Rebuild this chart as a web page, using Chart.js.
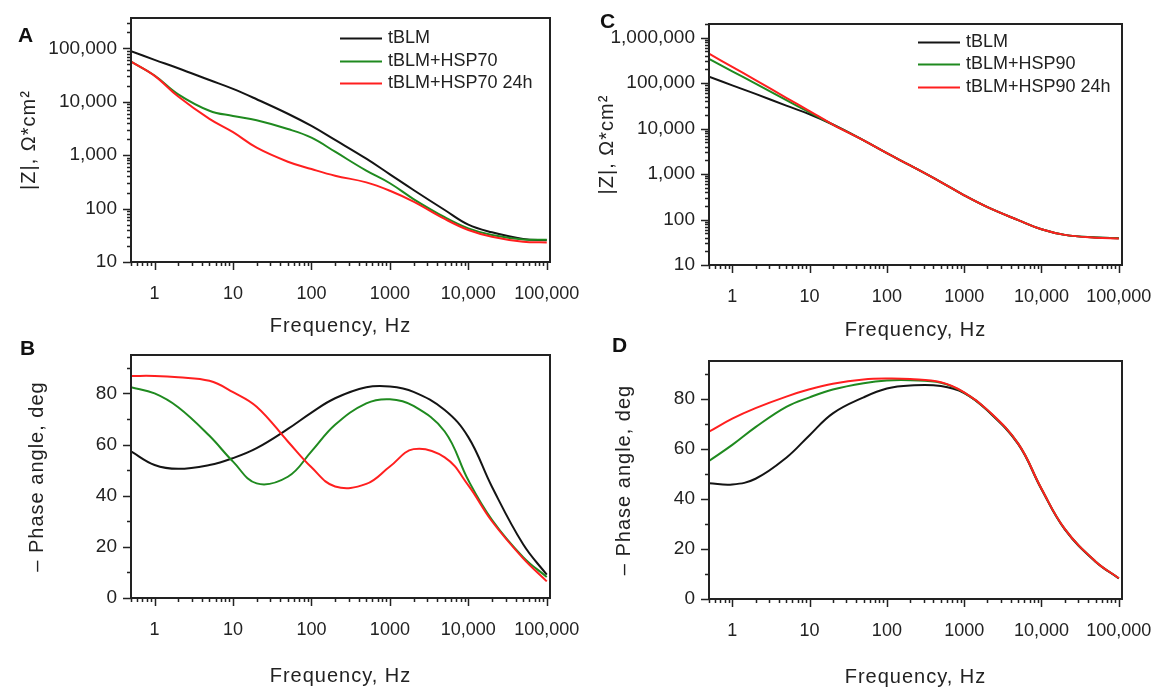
<!DOCTYPE html>
<html>
<head>
<meta charset="utf-8">
<script src="https://cdn.jsdelivr.net/npm/chart.js@4.4.1/dist/chart.umd.min.js"></script>
<style>
  html, body { margin: 0; padding: 0; background: #fff; }
  #wrap { position: relative; width: 1158px; height: 693px; }
  #wrap canvas { position: absolute; left: 0; top: 0; }
</style>
</head>
<body>
<div id="wrap">
  <canvas id="chartA" width="1158" height="693"></canvas>
  <canvas id="chartB" width="1158" height="693"></canvas>
  <canvas id="chartC" width="1158" height="693"></canvas>
  <canvas id="chartD" width="1158" height="693"></canvas>
</div>
<script>
// frequencies, Hz
const freq = [0.5, 1, 2, 5, 10, 20, 50, 100, 200, 500, 1000, 2000, 5000, 10000, 20000, 50000, 100000];

// A: |Z|, HSP70
const zTblmA = [88500, 61000, 42500, 25500, 17400, 11150, 5960, 3520, 1930, 860, 438, 223, 94, 50, 36, 27, 25.5];
const zHsp70 = [56400, 31000, 13800, 6800, 5420, 4500, 3090, 2130, 1160, 514, 298, 151, 69, 42.7, 32, 26.5, 26];
const zHsp70h = [56400, 30500, 12500, 4770, 2690, 1380, 755, 550, 413, 310, 216, 135, 64, 39.8, 29.8, 24, 23.3];

// B: phase, HSP70
const phTblmB = [57.3, 52.0, 50.5, 52.0, 54.7, 58.6, 66.1, 72.5, 78.1, 82.4, 82.7, 80.6, 73.5, 62.9, 43.5, 21, 9.1];
const phHsp70 = [82.4, 80.0, 74.6, 63.4, 53.3, 44.8, 47.4, 57.3, 67.7, 76.1, 77.7, 75.1, 65.1, 46, 30.6, 16, 8.2];
const phHsp70h = [86.8, 86.8, 86.3, 84.9, 80.5, 74.8, 61.2, 51.1, 43.6, 44.6, 51.4, 58.2, 55.0, 44, 30, 15.5, 6.5];

// C: |Z|, HSP90
const zTblmC = [138000, 89500, 58000, 32000, 20700, 12300, 5500, 2880, 1550, 667, 340, 187, 97, 61, 46, 40.5, 39];
const zHsp90 = [340000, 182000, 98000, 42500, 22700, 12300, 5500, 2880, 1550, 667, 340, 187, 97, 61, 46, 40.5, 39];
const zHsp90h = [445000, 228000, 117000, 47500, 24300, 12300, 5500, 2880, 1550, 667, 340, 187, 97, 61, 46, 40, 38.5];

// D: phase, HSP90
const phTblmD = [46.2, 45.7, 48.0, 56.4, 65.4, 74.1, 80.5, 84.0, 85.2, 85.0, 82.2, 75.2, 61.8, 43.8, 27.8, 14.9, 8.2];
const phHsp90 = [55.1, 61.5, 68.6, 76.7, 80.5, 83.6, 86.1, 87.2, 87.3, 86.3, 82.4, 75.4, 62, 44, 28, 15, 8.3];
const phHsp90h = [66.8, 72.0, 76.2, 80.8, 83.7, 85.9, 87.6, 88.0, 87.8, 86.5, 82.5, 75.5, 62, 44, 28, 15, 8.3];

// tick labels
const freqDecades = [1, 10, 100, 1000, 10000, 100000];
const freqTickLabels = ['1', '10', '100', '1000', '10,000', '100,000'];
const zDecadesA = [10, 100, 1000, 10000, 100000];
const zTickLabelsA = ['10', '100', '1,000', '10,000', '100,000'];
const zDecadesC = [10, 100, 1000, 10000, 100000, 1000000];
const zTickLabelsC = ['10', '100', '1,000', '10,000', '100,000', '1,000,000'];
const phaseTicks = [0, 20, 40, 60, 80];
const phaseTickLabels = ['0', '20', '40', '60', '80'];

const seriesA = ['tBLM', 'tBLM+HSP70', 'tBLM+HSP70 24h'];
const seriesC = ['tBLM', 'tBLM+HSP90', 'tBLM+HSP90 24h'];

const BLACK = '#141414', GREEN = '#1f8a1f', RED = '#ff1f1f', INK = '#222';
const FONT = "'Liberation Sans', Arial, sans-serif";
const Y_W = 125, X_H = 90;

function logTicks(min, max) {
  const out = [];
  for (let k = -1; k <= 6; k++) {
    const d = Math.pow(10, k);
    for (let m = 1; m <= 9; m++) {
      const v = m * d;
      if (v >= min * 0.999 && v <= max * 1.001) out.push(v);
    }
  }
  return out;
}

function linTicks(min, max, step) {
  const out = [];
  for (let v = min; v <= max; v += step) out.push(v);
  return out;
}

const labelFrom = (values, labels) => (value) => {
  const i = values.indexOf(value);
  return i >= 0 ? labels[i] : '';
};

const panelPlugin = {
  id: 'panel',
  afterLayout(chart) {
    Object.values(chart.scales).forEach(s => {
      if (s._spaced) return;
      const orig = s.drawTitle;
      s.drawTitle = function () {
        this.ctx.letterSpacing = '1px';
        orig.call(this);
        this.ctx.letterSpacing = '0px';
      };
      s._spaced = true;
    });
  },
  afterDraw(chart, args, o) {
    const { ctx, chartArea: a } = chart;
    const xs = chart.scales.x, ys = chart.scales.y;
    ctx.save();
    ctx.strokeStyle = INK;
    ctx.lineWidth = 1.5;
    ctx.beginPath();
    xs.ticks.forEach(t => {
      const p = Math.round(xs.getPixelForValue(t.value)) + 0.5;
      const len = t.label ? 8 : 4;
      ctx.moveTo(p, a.bottom);
      ctx.lineTo(p, a.bottom + len);
    });
    ys.ticks.forEach(t => {
      const p = Math.round(ys.getPixelForValue(t.value)) + 0.5;
      const len = t.label ? 8 : 4;
      ctx.moveTo(a.left - len, p);
      ctx.lineTo(a.left, p);
    });
    ctx.stroke();
    ctx.lineWidth = 2;
    ctx.strokeRect(a.left, a.top, a.right - a.left, a.bottom - a.top);

    ctx.fillStyle = '#111';
    ctx.font = 'bold 21px ' + FONT;
    ctx.textBaseline = 'alphabetic';
    ctx.fillText(o.letter, o.letterX, o.letterY);

    if (o.legendTop) {
      ctx.font = '18px ' + FONT;
      ctx.textBaseline = 'middle';
      chart.data.datasets.forEach((ds, i) => {
        const y = Math.round(a.top + o.legendTop + i * 22.5) + 0.5;
        const x0 = a.left + 209;
        ctx.strokeStyle = ds.borderColor;
        ctx.lineWidth = 2;
        ctx.beginPath();
        ctx.moveTo(x0, y);
        ctx.lineTo(x0 + 42, y);
        ctx.stroke();
        ctx.fillStyle = INK;
        ctx.fillText(ds.label, x0 + 48, y);
      });
    }
    ctx.restore();
  }
};

function series(labels, arrays) {
  const colors = [BLACK, GREEN, RED];
  return arrays.map((vals, i) => ({
    label: labels[i],
    data: freq.map((f, j) => ({ x: f, y: vals[j] })),
    borderColor: colors[i],
    borderWidth: 2,
    pointRadius: 0,
    tension: 0.4,
    fill: false,
    order: 3 - i
  }));
}

function makePanel(id, p) {
  const box = p.box;
  return new Chart(document.getElementById(id), {
    type: 'line',
    data: { datasets: p.datasets },
    plugins: [panelPlugin],
    options: {
      responsive: false,
      animation: false,
      events: [],
      layout: {
        padding: {
          left: box.left - Y_W,
          top: box.top,
          right: 1158 - box.right,
          bottom: 693 - box.bottom - X_H
        }
      },
      plugins: {
        legend: { display: false },
        tooltip: { enabled: false },
        panel: p.panel
      },
      scales: {
        x: {
          type: 'logarithmic',
          min: 0.5,
          max: 110000,
          bounds: 'data',
          afterBuildTicks: s => { s.ticks = logTicks(0.5, 110000).map(v => ({ value: v })); },
          afterFit: s => { s.height = X_H; s.paddingLeft = 0; s.paddingRight = 0; },
          grid: { display: false, drawTicks: false },
          border: { display: false },
          ticks: {
            autoSkip: false, maxRotation: 0, minRotation: 0, padding: 23, color: INK,
            font: { family: FONT, size: 18, lineHeight: 1 },
            callback: labelFrom(freqDecades, freqTickLabels)
          },
          title: {
            display: true, text: 'Frequency, Hz', color: INK,
            font: { family: FONT, size: 20, lineHeight: 1 },
            padding: { top: 0, bottom: X_H - p.xTitleDrop - 10 }
          }
        },
        y: p.y
      }
    }
  });
}

function zAxis(max, decades, labels, titlePad) {
  return {
    type: 'logarithmic',
    min: 10,
    max: max,
    bounds: 'data',
    afterBuildTicks: s => { s.ticks = logTicks(10, max).map(v => ({ value: v })); },
    afterFit: s => { s.width = Y_W; s.paddingTop = 0; s.paddingBottom = 0; },
    grid: { display: false, drawTicks: false },
    border: { display: false },
    ticks: {
      autoSkip: false, padding: 14, color: INK,
      font: { family: FONT, size: 19, lineHeight: 1 },
      callback: labelFrom(decades, labels)
    },
    title: {
      display: true, text: '|Z|, Ω*cm²', color: INK,
      font: { family: FONT, size: 20, lineHeight: 1 },
      padding: { top: titlePad, bottom: 0 }
    }
  };
}

function phaseAxis(titlePad) {
  return {
    type: 'linear',
    min: 0,
    max: 95,
    bounds: 'data',
    afterBuildTicks: s => { s.ticks = linTicks(0, 90, 10).map(v => ({ value: v })); },
    afterFit: s => { s.width = Y_W; s.paddingTop = 0; s.paddingBottom = 0; },
    grid: { display: false, drawTicks: false },
    border: { display: false },
    ticks: {
      autoSkip: false, padding: 14, color: INK,
      font: { family: FONT, size: 19, lineHeight: 1 },
      callback: labelFrom(phaseTicks, phaseTickLabels)
    },
    title: {
      display: true, text: '– Phase angle, deg', color: INK,
      font: { family: FONT, size: 20, lineHeight: 1 },
      padding: { top: titlePad, bottom: 0 }
    }
  };
}

makePanel('chartA', {
  box: { left: 131, top: 18, right: 550, bottom: 262 },
  datasets: series(seriesA, [zTblmA, zHsp70, zHsp70h]),
  y: zAxis(370000, zDecadesA, zTickLabelsA, 13),
  xTitleDrop: 64,
  panel: { letter: 'A', letterX: 18, letterY: 42, legendTop: 20 }
});

makePanel('chartB', {
  box: { left: 131, top: 355, right: 550, bottom: 598 },
  datasets: series(seriesA, [phTblmB, phHsp70, phHsp70h]),
  y: phaseAxis(21),
  xTitleDrop: 78,
  panel: { letter: 'B', letterX: 20, letterY: 355 }
});

makePanel('chartC', {
  box: { left: 709, top: 24, right: 1122, bottom: 265 },
  datasets: series(seriesC, [zTblmC, zHsp90, zHsp90h]),
  y: zAxis(2000000, zDecadesC, zTickLabelsC, 13),
  xTitleDrop: 65,
  panel: { letter: 'C', letterX: 600, letterY: 28, legendTop: 17.5 }
});

makePanel('chartD', {
  box: { left: 709, top: 361, right: 1122, bottom: 599 },
  datasets: series(seriesC, [phTblmD, phHsp90, phHsp90h]),
  y: phaseAxis(30),
  xTitleDrop: 78,
  panel: { letter: 'D', letterX: 612, letterY: 352 }
});
</script>
</body>
</html>
